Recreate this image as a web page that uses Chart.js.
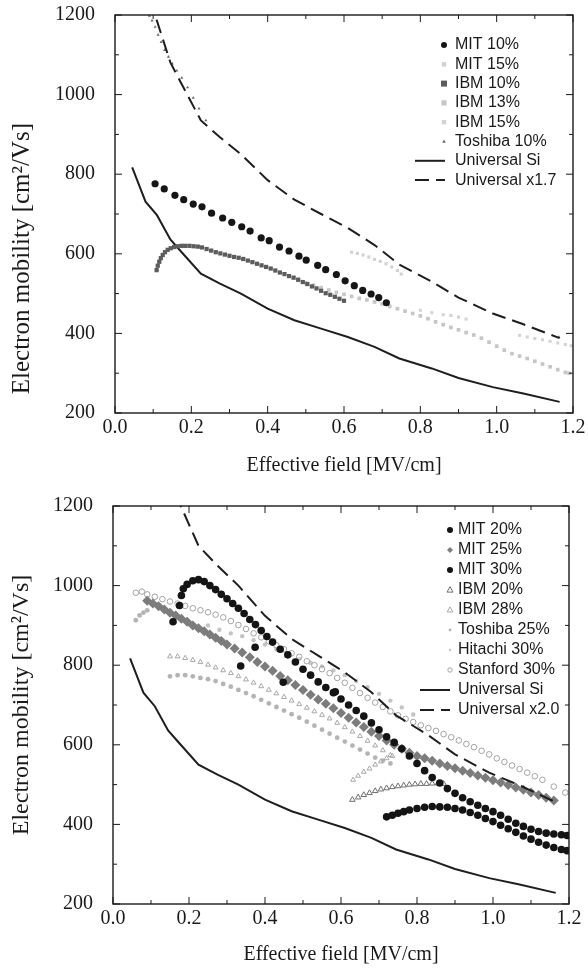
<!DOCTYPE html>
<html><head><meta charset="utf-8">
<script src="https://cdn.jsdelivr.net/npm/chart.js@4.4.1/dist/chart.umd.min.js"></script>
<style>
html,body{margin:0;padding:0;background:#fff;width:588px;height:973px;overflow:hidden;}
#w1{position:absolute;left:0;top:0;width:588px;height:485px;}
#w2{position:absolute;left:0;top:485px;width:588px;height:488px;}
</style></head><body>
<div id="w1"><canvas id="c1"></canvas></div>
<div id="w2"><canvas id="c2"></canvas></div>
<script>
// ---------- tick labels ----------
const xTickValues = [0, 0.2, 0.4, 0.6, 0.8, 1.0, 1.2];
const xTickLabels = ['0.0', '0.2', '0.4', '0.6', '0.8', '1.0', '1.2'];
const xMinorValues = [0.1, 0.3, 0.5, 0.7, 0.9, 1.1];
const yTickValues = [200, 400, 600, 800, 1000, 1200];
const yTickLabels = ['200', '400', '600', '800', '1000', '1200'];
const yMinorValues = [300, 500, 700, 900, 1100];

// ---------- universal curves (both panels) ----------
const uniX   = [0.045,0.08,0.11,0.145,0.17,0.225,0.275,0.33,0.40,0.47,0.54,0.61,0.68,0.745,0.83,0.90,0.99,1.07,1.165];
const uniSi  = [817,731,697,636,609,550,525,500,462,433,412,391,366,337,312,288,265,249,228];
const uni17  = [1389,1243,1185,1081,1035,935,893,850,785,736,700,665,622,573,530,490,450,423,388];
const uni20  = [1634,1462,1394,1272,1218,1100,1050,1000,924,866,824,782,732,674,624,576,530,498,456];

// ---------- top panel series ----------
const mit10X = [0.105,0.129,0.157,0.180,0.205,0.228,0.253,0.282,0.306,0.332,0.354,0.383,0.404,0.431,0.456,0.482,0.501,0.531,0.552,0.580,0.603,0.627,0.649,0.671,0.691,0.711];
const mit10Y = [776,763,747,736,725,718,702,690,679,668,657,640,633,617,607,594,584,571,560,548,532,520,508,499,490,477];
const mit15X = [0.62,0.635,0.65,0.665,0.68,0.695,0.71,0.725,0.74,0.75];
const mit15Y = [604,601,597,592,586,581,575,567,558,549];
const ibm10X = [0.109,0.112,0.116,0.120,0.125,0.131,0.138,0.146,0.155,0.164,0.174,0.184,0.195,0.206,0.217,0.228,0.240,0.252,0.264,0.276,0.288,0.300,0.312,0.324,0.336,0.348,0.360,0.372,0.384,0.396,0.408,0.420,0.432,0.444,0.456,0.468,0.480,0.492,0.504,0.516,0.528,0.540,0.552,0.564,0.576,0.588,0.600];
const ibm10Y = [559,570,580,589,597,604,610,614,617,619,620,620,620,619,618,616,612,608,604,601,598,595,592,590,587,583,579,575,571,567,563,558,553,549,544,540,535,529,524,518,513,507,501,497,492,487,482];
const ibm13X = [0.48,0.50,0.52,0.54,0.56,0.58,0.60,0.62,0.64,0.66,0.68,0.70,0.72,0.74,0.76,0.78,0.80,0.82,0.84,0.86,0.88,0.90,0.92,0.94,0.96,0.98,1.00,1.02,1.04,1.06,1.08,1.10,1.12,1.14,1.16,1.18,1.19];
const ibm13Y = [533,527,521,515,509,503,498,493,488,484,479,474,468,462,456,450,444,437,429,422,415,409,402,396,388,378,368,358,349,343,337,330,323,316,309,302,300];
const ibm15X = [0.80,0.83,0.86,0.88,0.90,0.92,1.06,1.08,1.10,1.12,1.14,1.16,1.18,1.195];
const ibm15Y = [458,452,447,445,441,436,395,391,387,384,380,376,372,369];
const tosh10X = [0.09,0.097,0.105,0.113,0.121,0.13,0.14,0.15,0.162,0.175,0.19,0.205,0.22,0.238,1.163];
const tosh10Y = [1198,1186,1170,1150,1132,1112,1095,1078,1060,1042,1018,992,965,935,391];

// ---------- bottom panel series ----------
const mit20X = [0.158,0.336,0.374,0.448,0.585,0.72,0.735,0.75,0.765,0.78,0.80,0.82,0.84,0.86,0.88,0.90,0.92,0.94,0.96,0.98,1.00,1.02,1.04,1.06,1.08,1.10,1.12,1.14,1.16,1.18,1.195];
const mit20Y = [909,798,845,757,733,419,423,428,432,436,440,443,445,444,443,440,436,430,423,415,407,398,389,380,371,363,355,348,342,337,334];
const mit25X = [0.09,0.105,0.12,0.135,0.15,0.165,0.18,0.195,0.21,0.225,0.24,0.255,0.27,0.285,0.30,0.32,0.34,0.36,0.38,0.40,0.42,0.44,0.46,0.48,0.50,0.52,0.54,0.56,0.58,0.60,0.62,0.64,0.66,0.68,0.70,0.72,0.74,0.76,0.78,0.80,0.82,0.84,0.86,0.88,0.90,0.92,0.94,0.96,0.98,1.00,1.02,1.04,1.06,1.08,1.10,1.12,1.14,1.16];
const mit25Y = [962,955,948,940,932,925,917,909,900,893,885,877,869,861,852,842,832,820,808,797,786,773,762,750,738,726,714,703,692,680,668,656,645,633,622,611,600,590,580,572,566,560,553,547,541,535,529,523,517,511,505,499,493,487,480,474,467,460];
const mit30X = [0.175,0.18,0.185,0.195,0.21,0.225,0.24,0.255,0.27,0.285,0.30,0.315,0.33,0.345,0.36,0.375,0.39,0.405,0.42,0.44,0.46,0.48,0.50,0.52,0.54,0.56,0.58,0.60,0.62,0.64,0.66,0.68,0.70,0.72,0.74,0.76,0.78,0.80,0.82,0.84,0.86,0.88,0.90,0.92,0.94,0.96,0.98,1.00,1.02,1.04,1.06,1.08,1.10,1.12,1.14,1.16,1.18,1.195];
const mit30Y = [950,975,992,1003,1012,1015,1010,1000,990,978,967,955,943,930,915,902,887,872,858,840,826,808,790,775,758,744,731,715,700,686,672,655,638,620,606,590,572,553,535,518,504,490,478,467,457,448,440,432,423,413,403,395,388,382,378,376,374,372];
const ibm20X = [0.63,0.645,0.66,0.675,0.69,0.705,0.72,0.735,0.75,0.765,0.78,0.795,0.81,0.825,0.84,0.855,0.87];
const ibm20Y = [462,468,474,479,484,488,491,494,496,498,500,501,502,502,503,503,502];
const ibm28X = [0.15,0.17,0.19,0.21,0.23,0.25,0.27,0.29,0.31,0.33,0.35,0.37,0.39,0.41,0.43,0.45,0.47,0.49,0.51,0.53,0.55,0.57,0.59,0.61,0.63,0.65,0.67,0.69,0.71,0.73,0.632,0.645,0.66,0.675,0.69,0.705,0.72,0.735];
const ibm28Y = [822,822,818,813,808,801,794,787,780,772,764,756,747,738,729,720,711,702,693,684,675,666,655,644,633,622,610,598,586,574,512,522,532,540,550,558,566,572];
const tosh25X = [0.06,0.07,0.08,0.09,0.15,0.17,0.19,0.21,0.23,0.25,0.27,0.29,0.31,0.33,0.35,0.37,0.39,0.41,0.43,0.45,0.47,0.49,0.51,0.53,0.55,0.57,0.59,0.61,0.63,0.65,0.67,0.69,0.71,0.73];
const tosh25Y = [913,925,932,938,772,775,775,772,768,765,760,753,746,738,730,722,713,704,695,686,677,668,658,648,638,628,618,608,598,588,578,568,560,553];
const hit30X = [0.25,0.28,0.31,0.34,0.37,0.40,0.43,0.46,0.49,0.52,0.55,0.58,0.61,0.64,0.67,0.70,0.73,0.76,0.79];
const hit30Y = [900,889,880,873,863,852,840,828,816,806,797,787,775,760,745,728,711,694,676];
const stan30X = [0.06,0.076,0.09,0.11,0.13,0.15,0.17,0.19,0.21,0.23,0.25,0.27,0.29,0.31,0.33,0.35,0.37,0.39,0.41,0.43,0.45,0.47,0.49,0.51,0.53,0.55,0.57,0.59,0.61,0.63,0.65,0.67,0.69,0.71,0.73,0.75,0.77,0.79,0.81,0.83,0.85,0.87,0.89,0.91,0.93,0.95,0.97,0.99,1.01,1.03,1.05,1.07,1.09,1.11,1.13,1.16,1.19];
const stan30Y = [982,985,978,972,966,960,955,949,943,938,933,927,920,911,901,891,880,870,860,850,840,830,821,810,800,790,780,768,756,743,730,718,706,695,684,674,665,657,649,642,635,627,619,611,602,594,585,576,566,557,548,539,530,521,512,495,480];

// ---------- helpers ----------
const SERIF = '"Liberation Serif", "Times New Roman", serif';
const SANS = '"Liberation Sans", Arial, sans-serif';
const INK = '#1a1a1a';
const pts = (xs, ys) => xs.map((x, i) => ({x: x, y: ys[i]}));

function scatterSet(label, xs, ys, style, radius, fill, stroke, bw, order, legendRadius) {
  return {label, data: pts(xs, ys), showLine: false, pointStyle: style, pointRadius: radius,
    pointBackgroundColor: fill, backgroundColor: fill, pointBorderColor: stroke, borderColor: stroke,
    pointBorderWidth: bw, order, legendRadius: legendRadius || Math.min(radius, 3)};
}
function lineSet(label, ys, dash) {
  return {label, data: pts(uniX, ys), showLine: true, pointRadius: 0, borderColor: '#1e1e1e',
    backgroundColor: '#1e1e1e', borderWidth: 2, borderDash: dash, tension: 0, order: 1};
}

function drawMarker(ctx, style, r, x, y, fill, stroke, bw) {
  ctx.save();
  ctx.fillStyle = fill; ctx.strokeStyle = stroke; ctx.lineWidth = bw || 1;
  ctx.beginPath();
  if (style === 'rect') {
    ctx.rect(x - r, y - r, 2 * r, 2 * r);
  } else if (style === 'triangle') {
    ctx.moveTo(x, y - r * 1.1); ctx.lineTo(x + r, y + r * 0.7); ctx.lineTo(x - r, y + r * 0.7); ctx.closePath();
  } else if (style === 'rectRot') {
    ctx.moveTo(x, y - r); ctx.lineTo(x + r, y); ctx.lineTo(x, y + r); ctx.lineTo(x - r, y); ctx.closePath();
  } else {
    ctx.arc(x, y, r, 0, Math.PI * 2);
  }
  ctx.fill();
  if (bw) ctx.stroke();
  ctx.restore();
}

const insideLegend = {
  id: 'insideLegend',
  afterDraw(chart, args, o) {
    const ctx = chart.ctx, a = chart.chartArea;
    const tx = a.left + o.dx;
    ctx.save();
    ctx.font = o.font;
    ctx.textBaseline = 'middle';
    ctx.textAlign = 'left';
    chart.data.datasets.forEach((ds, i) => {
      const y = a.top + o.dy + i * o.step;
      if (ds.showLine) {
        ctx.save();
        ctx.beginPath();
        ctx.setLineDash(ds.borderDash || []);
        ctx.lineWidth = ds.borderWidth;
        ctx.strokeStyle = ds.borderColor;
        ctx.moveTo(tx - o.lineFrom, y); ctx.lineTo(tx - o.lineTo, y);
        ctx.stroke();
        ctx.restore();
      } else {
        drawMarker(ctx, ds.pointStyle, ds.legendRadius, tx - o.markerGap, y,
          ds.pointBackgroundColor, ds.pointBorderColor, ds.pointBorderWidth);
      }
      ctx.fillStyle = INK;
      ctx.fillText(ds.label, tx, y);
    });
    ctx.restore();
  }
};

const frameTicks = {
  id: 'frameTicks',
  afterDatasetsDraw(chart) {
    const ctx = chart.ctx, a = chart.chartArea, xs = chart.scales.x, ys = chart.scales.y;
    ctx.save();
    ctx.strokeStyle = INK; ctx.lineWidth = 1;
    const seg = (x1, y1, x2, y2) => { ctx.beginPath(); ctx.moveTo(x1, y1); ctx.lineTo(x2, y2); ctx.stroke(); };
    const xt = (vals, len) => vals.forEach(v => { const p = xs.getPixelForValue(v); seg(p, a.bottom, p, a.bottom - len); seg(p, a.top, p, a.top + len); });
    const yt = (vals, len) => vals.forEach(v => { const p = ys.getPixelForValue(v); seg(a.left, p, a.left + len, p); seg(a.right, p, a.right - len, p); });
    xt(xTickValues, 7); xt(xMinorValues, 4);
    yt(yTickValues, 7); yt(yMinorValues, 4);
    ctx.lineWidth = 1.4;
    ctx.strokeRect(a.left, a.top, a.right - a.left, a.bottom - a.top);
    ctx.restore();
  }
};

// invisible tick marks used only as label spacing (keeps chart-area padding unaffected)
const spacerGrid = len => ({display: true, drawOnChartArea: false, drawTicks: true, tickLength: len, tickColor: 'rgba(0,0,0,0)', tickWidth: 0});

function makeChart(id, datasets, L) {
  return new Chart(document.getElementById(id), {
    type: 'scatter',
    data: {datasets},
    plugins: [frameTicks, insideLegend],
    options: {
      responsive: true, maintainAspectRatio: false, animation: false, devicePixelRatio: 1,
      events: [],
      layout: {padding: {top: L.top, right: L.right, left: 0, bottom: 0}},
      plugins: {
        legend: {display: false}, tooltip: {enabled: false},
        insideLegend: L.legend
      },
      scales: {
        x: {
          type: 'linear', min: 0, max: 1.2,
          afterBuildTicks: s => { s.ticks = xTickValues.map(v => ({value: v})); },
          afterFit: s => { s.height = L.xH; },
          ticks: {callback: (v, i) => xTickLabels[i], font: {family: SERIF, size: 20}, color: INK, padding: 0, maxRotation: 0, autoSkip: false},
          grid: spacerGrid(3), border: {display: false},
          title: {display: true, text: 'Effective field [MV/cm]', font: {family: SERIF, size: 20}, color: INK, padding: {top: 0, bottom: L.xTitlePad}}
        },
        y: {
          type: 'linear', min: 200, max: 1200,
          afterBuildTicks: s => { s.ticks = yTickValues.map(v => ({value: v})); },
          afterFit: s => { s.width = L.yW; },
          ticks: {callback: (v, i) => yTickLabels[i], font: {family: SERIF, size: 20}, color: INK, padding: 0, autoSkip: false},
          grid: spacerGrid(20), border: {display: false},
          title: {display: true, align: L.yTitleAlign, text: L.yTitle, font: {family: SERIF, size: L.yTitleSize}, color: INK, padding: {top: 7, bottom: 0}}
        }
      }
    }
  });
}

// ---------- top chart ----------
makeChart('c1', [
  scatterSet('MIT 10%', mit10X, mit10Y, 'circle', 3.6, '#161616', '#161616', 0, 0),
  scatterSet('MIT 15%', mit15X, mit15Y, 'rect', 2.2, '#d2d2d2', '#d2d2d2', 0, 4),
  scatterSet('IBM 10%', ibm10X, ibm10Y, 'rect', 3, '#5c5c5c', '#5c5c5c', 0, 1),
  scatterSet('IBM 13%', ibm13X, ibm13Y, 'rect', 2.6, '#c6c6c6', '#c6c6c6', 0, 3),
  scatterSet('IBM 15%', ibm15X, ibm15Y, 'rect', 2.2, '#d4d4d4', '#d4d4d4', 0, 4),
  scatterSet('Toshiba 10%', tosh10X, tosh10Y, 'triangle', 1.8, '#6a6a6a', '#6a6a6a', 0, 2),
  lineSet('Universal Si', uniSi, []),
  lineSet('Universal x1.7', uni17, [14, 7])
], {top: 15, right: 15, yW: 115, xH: 72, xTitlePad: 7,
    yTitle: '   Electron mobility [cm\u00B2/Vs]', yTitleAlign: 'start', yTitleSize: 25,
    legend: {dx: 340, dy: 30, step: 19.3, markerGap: 11, lineFrom: 40, lineTo: 10, font: '16px ' + SANS}});

// ---------- bottom chart ----------
makeChart('c2', [
  scatterSet('MIT 20%', mit20X, mit20Y, 'circle', 3.8, '#141414', '#141414', 0, 0),
  scatterSet('MIT 25%', mit25X, mit25Y, 'rectRot', 5, '#7c7c7c', '#7c7c7c', 0, 2, 3),
  scatterSet('MIT 30%', mit30X, mit30Y, 'circle', 3.8, '#141414', '#141414', 0, 0),
  scatterSet('IBM 20%', ibm20X, ibm20Y, 'triangle', 3.2, 'rgba(255,255,255,0.6)', '#6e6e6e', 1, 2),
  scatterSet('IBM 28%', ibm28X, ibm28Y, 'triangle', 2.8, 'rgba(255,255,255,0.3)', '#a8a8a8', 1, 3),
  scatterSet('Toshiba 25%', tosh25X, tosh25Y, 'circle', 2.4, '#b4b4b4', '#b4b4b4', 0, 4, 1.4),
  scatterSet('Hitachi 30%', hit30X, hit30Y, 'circle', 2.2, '#c4c4c4', '#c4c4c4', 0, 4, 1.2),
  scatterSet('Stanford 30%', stan30X, stan30Y, 'circle', 2.8, 'rgba(255,255,255,0.3)', '#a2a2a2', 1, 3, 2.2),
  lineSet('Universal Si', uniSi, []),
  lineSet('Universal x2.0', uni20, [14, 7])
], {top: 21, right: 19, yW: 113, xH: 69, xTitlePad: 6,
    yTitle: 'Electron mobility [cm\u00B2/Vs]', yTitleAlign: 'center', yTitleSize: 24,
    legend: {dx: 345, dy: 24, step: 20, markerGap: 8, lineFrom: 38, lineTo: 8, font: '16px ' + SANS}});
</script>
</body></html>
